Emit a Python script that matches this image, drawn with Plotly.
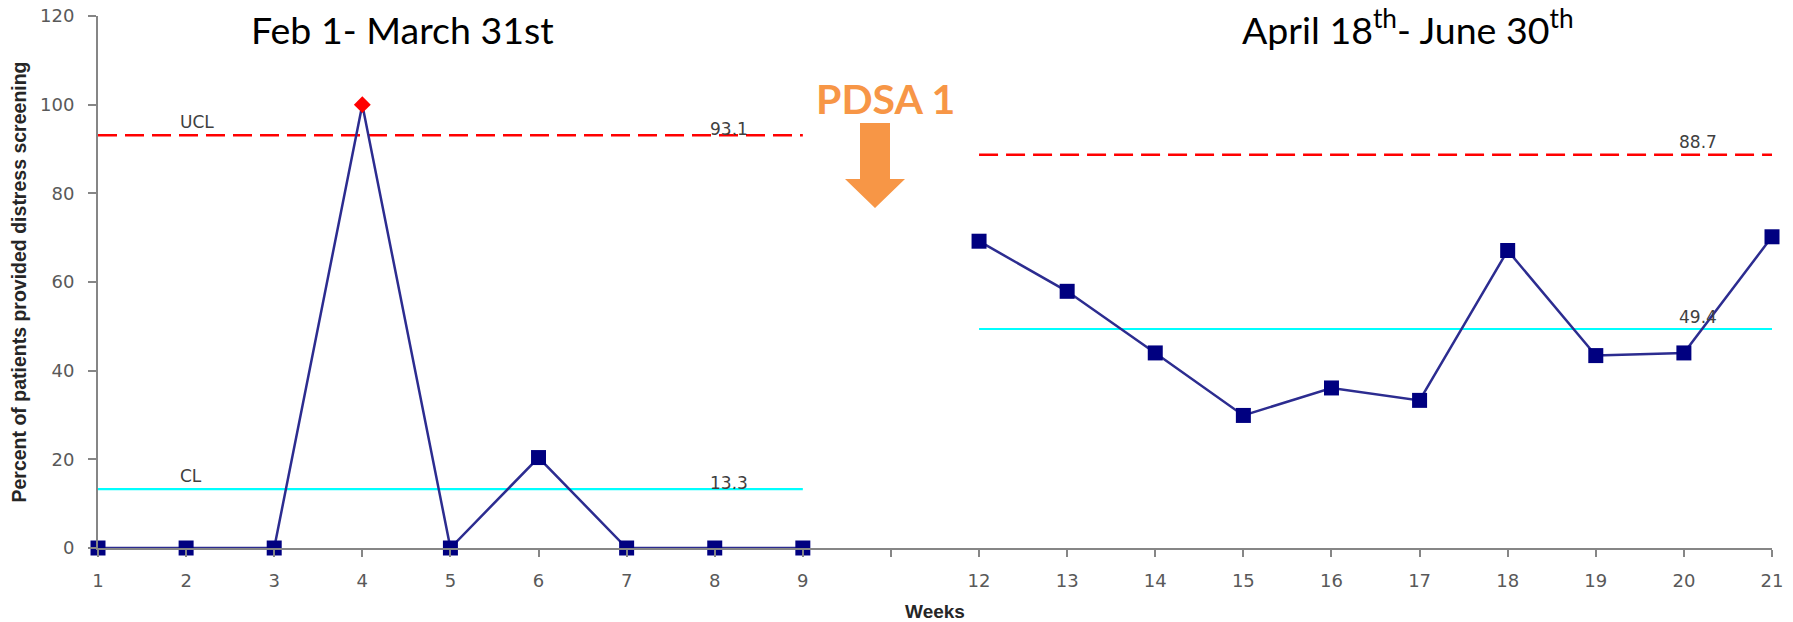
import plotly.graph_objects as go

# ---------------- data ----------------
period1_weeks = ["1", "2", "3", "4", "5", "6", "7", "8", "9"]
period1_pct = [0, 0, 0, 100, 0, 20.4, 0, 0, 0]
period1_ucl = 93.1
period1_cl = 13.3

gap_category = [" "]

period2_weeks = ["12", "13", "14", "15", "16", "17", "18", "19", "20", "21"]
period2_pct = [69.2, 57.9, 44.0, 29.9, 36.1, 33.3, 67.1, 43.4, 44.0, 70.2]
period2_ucl = 88.7
period2_cl = 49.4

y_ticks = [0, 20, 40, 60, 80, 100, 120]

title_period1 = "Feb 1- March 31st"
title_period2 = "April 18<sup>th</sup>- June 30<sup>th</sup>"
intervention_label = "PDSA 1"
y_title = "Percent of patients provided distress screening"
x_title = "Weeks"

categories = period1_weeks + gap_category + period2_weeks

# ---------------- layout geometry ----------------
W, H = 1793, 622
ML, MR, MT, MB = 98, 21, 16, 74
PW, PH = W - ML - MR, H - MT - MB


def px(xp):
    return (xp - ML) / PW


def py(yp):
    return (H - MB - yp) / PH


LINE_COLOR = "#2c2c90"
MARK_COLOR = "#000080"
AXIS_COLOR = "#868686"
TICK_FONT = dict(family="DejaVu Sans", size=18, color="#595959")
LABEL_FONT = dict(family="DejaVu Sans", size=17, color="#404040")
ORANGE = "#F79646"

fig = go.Figure()

# control limit lines
for weeks, ucl, cl in [(period1_weeks, period1_ucl, period1_cl),
                       (period2_weeks, period2_ucl, period2_cl)]:
    fig.add_trace(go.Scatter(x=weeks, y=[ucl] * len(weeks), mode="lines",
                             line=dict(color="#FF0000", width=2.5, dash="19px,8px"),
                             hoverinfo="skip"))
    fig.add_trace(go.Scatter(x=weeks, y=[cl] * len(weeks), mode="lines",
                             line=dict(color="#00FFFF", width=2.2),
                             hoverinfo="skip"))

# data series
for weeks, vals, ucl in [(period1_weeks, period1_pct, period1_ucl),
                         (period2_weeks, period2_pct, period2_ucl)]:
    out = [v > ucl for v in vals]
    fig.add_trace(go.Scatter(
        x=weeks, y=vals, mode="lines+markers",
        line=dict(color=LINE_COLOR, width=2.5),
        marker=dict(symbol=["diamond" if o else "square" for o in out],
                    size=[13 if o else 15 for o in out],
                    color=["#FF0000" if o else MARK_COLOR for o in out],
                    opacity=1,
                    line=dict(width=0)),
        cliponaxis=False,
    ))

annotations = []
# limit labels
annotations.append(dict(x=1, y=period1_ucl, xref="x", yref="y", text="UCL", showarrow=False,
                        xanchor="left", yanchor="middle", xshift=-8, yshift=13, font=LABEL_FONT))
annotations.append(dict(x=1, y=period1_cl, xref="x", yref="y", text="CL", showarrow=False,
                        xanchor="left", yanchor="middle", xshift=-8, yshift=13, font=LABEL_FONT))
annotations.append(dict(x=7, y=period1_ucl, xref="x", yref="y", text=f"{period1_ucl}", showarrow=False,
                        xanchor="left", yanchor="middle", xshift=-7, yshift=6, font=LABEL_FONT))
annotations.append(dict(x=7, y=period1_cl, xref="x", yref="y", text=f"{period1_cl}", showarrow=False,
                        xanchor="left", yanchor="middle", xshift=-7, yshift=6, font=LABEL_FONT))
annotations.append(dict(x=18, y=period2_ucl, xref="x", yref="y", text=f"{period2_ucl}", showarrow=False,
                        xanchor="left", yanchor="middle", xshift=-7, yshift=13, font=LABEL_FONT))
annotations.append(dict(x=18, y=period2_cl, xref="x", yref="y", text=f"{period2_cl}", showarrow=False,
                        xanchor="left", yanchor="middle", xshift=-7, yshift=12, font=LABEL_FONT))

# period titles
annotations.append(dict(x=px(402), y=py(29), xref="paper", yref="paper", text=title_period1,
                        showarrow=False, xanchor="center", yanchor="middle",
                        font=dict(family="Lato", size=37.5, color="#000000")))
annotations.append(dict(x=px(1408), y=py(27), xref="paper", yref="paper", text=title_period2,
                        showarrow=False, xanchor="center", yanchor="middle",
                        font=dict(family="Lato", size=37.5, color="#000000")))
# intervention label
annotations.append(dict(x=px(885), y=py(99), xref="paper", yref="paper", text=intervention_label,
                        showarrow=False, xanchor="center", yanchor="middle",
                        font=dict(family="Lato", size=41, color=ORANGE, weight="bold")))

# block arrow
sx0, sx1, sy0, sy1 = 860, 890, 123, 179
hx0, hx1, tip_x, tip_y = 845, 905, 875, 208
path = (f"M {px(sx0)} {py(sy0)} L {px(sx1)} {py(sy0)} L {px(sx1)} {py(sy1)} "
        f"L {px(hx1)} {py(sy1)} L {px(tip_x)} {py(tip_y)} L {px(hx0)} {py(sy1)} "
        f"L {px(sx0)} {py(sy1)} Z")
fig.add_shape(type="path", path=path, xref="paper", yref="paper",
              fillcolor=ORANGE, line=dict(width=0))

fig.update_layout(
    width=W, height=H,
    margin=dict(l=ML, r=MR, t=MT, b=MB, autoexpand=False),
    plot_bgcolor="white", paper_bgcolor="white",
    showlegend=False,
    annotations=annotations,
)

fig.update_xaxes(
    type="category", categoryorder="array", categoryarray=categories,
    range=[0, len(categories) - 1],
    showline=True, linecolor=AXIS_COLOR, linewidth=2,
    ticks="outside", ticklen=7, tickwidth=1.5, tickcolor=AXIS_COLOR,
    tickfont=TICK_FONT, ticklabelstandoff=8,
    showgrid=False, zeroline=False, automargin=False,
    title=dict(text=x_title, standoff=16,
               font=dict(family="Liberation Sans", size=19, color="#262626", weight="bold")),
)
fig.update_yaxes(
    range=[0, 120], tickvals=y_ticks,
    showline=True, linecolor=AXIS_COLOR, linewidth=2,
    ticks="outside", ticklen=8, tickwidth=1.5, tickcolor=AXIS_COLOR,
    tickfont=TICK_FONT, ticklabelstandoff=10,
    showgrid=False, zeroline=False, automargin=False,
    title=dict(text=y_title, standoff=8,
               font=dict(family="Liberation Sans", size=19.5, color="#262626", weight="bold")),
)

fig.write_html("out.html")
